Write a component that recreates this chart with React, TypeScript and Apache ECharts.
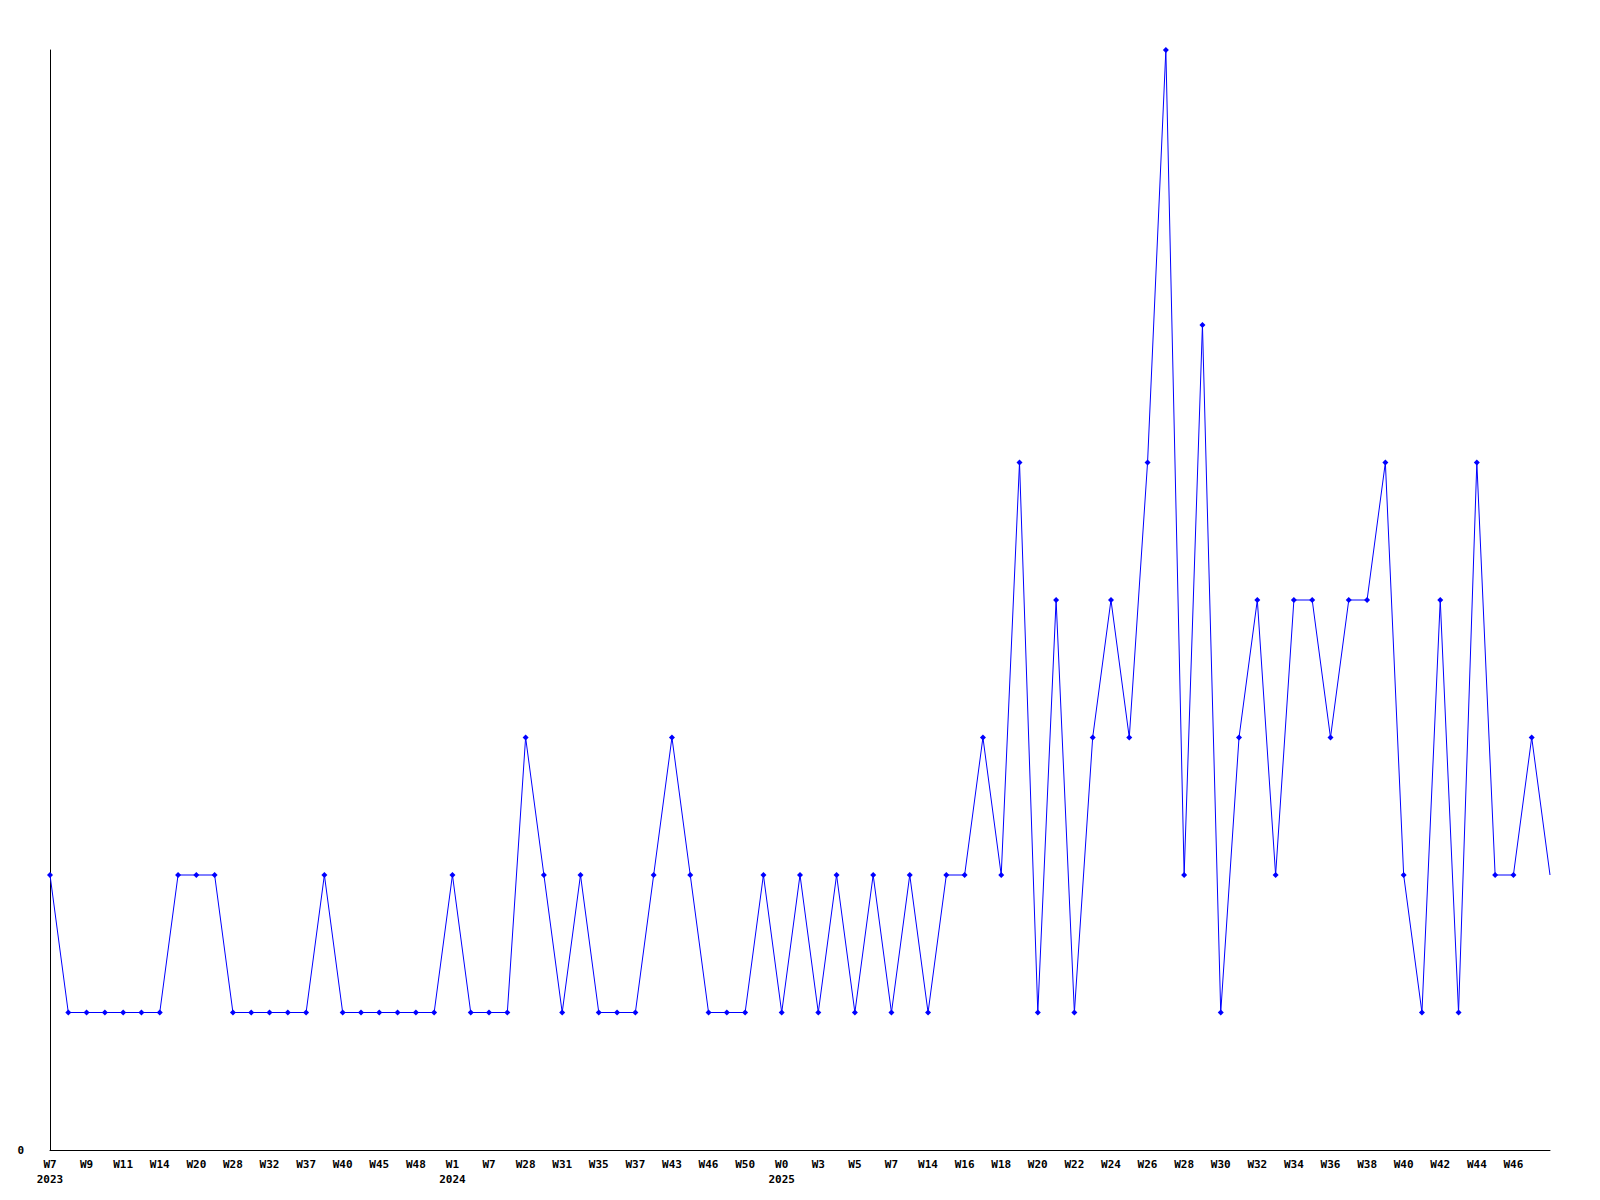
import React, { useEffect, useRef } from "react";
import * as echarts from "echarts";

const weeks: string[] = [
  "W7", "W8", "W9", "W10", "W11", "W12", "W14", "W17", "W20", "W25",
  "W28", "W30", "W32", "W35", "W37", "W38", "W40", "W43", "W45", "W47",
  "W48", "W50", "W1", "W3", "W7", "W20", "W28", "W30", "W31", "W33",
  "W35", "W36", "W37", "W40", "W43", "W44", "W46", "W48", "W50", "W52",
  "W0", "W2", "W3", "W4", "W5", "W6", "W7", "W10", "W14", "W15",
  "W16", "W17", "W18", "W19", "W20", "W21", "W22", "W23", "W24", "W25",
  "W26", "W27", "W28", "W29", "W30", "W31", "W32", "W33", "W34", "W35",
  "W36", "W37", "W38", "W39", "W40", "W41", "W42", "W43", "W44", "W45",
  "W46", "W47", "W48",
];

const yearStartIndex: number[] = [0, 22, 40];
const yearLabels: string[] = ["2023", "2024", "2025"];

const counts: number[] = [
  2, 1, 1, 1, 1, 1, 1, 2, 2, 2,
  1, 1, 1, 1, 1, 2, 1, 1, 1, 1,
  1, 1, 2, 1, 1, 1, 3, 2, 1, 2,
  1, 1, 1, 2, 3, 2, 1, 1, 1, 2,
  1, 2, 1, 2, 1, 2, 1, 2, 1, 2,
  2, 3, 2, 5, 1, 4, 1, 3, 4, 3,
  5, 8, 2, 6, 1, 3, 4, 2, 4, 4,
  3, 4, 4, 5, 2, 1, 4, 1, 5, 2,
  2, 3, 2,
];

const yTicks: number[] = [0, 8];

export default function App() {
  const ref = useRef<HTMLDivElement>(null);

  useEffect(() => {
    if (!ref.current) return;
    const chart = echarts.init(ref.current, null, { renderer: "svg" });
    const font = "DejaVu Sans Mono";
    const last = counts.length - 1;
    chart.setOption({
      animation: false,
      backgroundColor: "#ffffff",
      grid: { left: 42, right: 42, top: 42, bottom: 42, containLabel: false },
      xAxis: {
        type: "category",
        data: weeks,
        boundaryGap: false,
        axisLine: { show: true, lineStyle: { color: "#000", width: 1 } },
        axisTick: { show: false },
        splitLine: { show: false },
        axisLabel: {
          interval: 1,
          margin: 7,
          color: "#000",
          fontFamily: font,
          fontWeight: "bold",
          fontSize: 11,
          lineHeight: 15,
          formatter: (value: string, index: number) => {
            if (index === last) return "";
            const yi = yearStartIndex.indexOf(index);
            return yi >= 0 ? value + "\n" + yearLabels[yi] : value;
          },
        },
      },
      yAxis: {
        type: "value",
        min: yTicks[0],
        max: yTicks[1],
        interval: 8,
        axisLine: { show: true, lineStyle: { color: "#000", width: 1 } },
        axisTick: { show: false },
        splitLine: { show: false },
        axisLabel: {
          margin: 26,
          color: "#000",
          fontFamily: font,
          fontWeight: "bold",
          fontSize: 11,
          formatter: (v: number) => (v === 0 ? "0" : ""),
        },
      },
      series: [
        {
          type: "line",
          data: counts.map((v, i) =>
            i === last ? { value: v, symbol: "none" } : v
          ),
          symbol: "diamond",
          symbolSize: 6,
          showAllSymbol: true,
          lineStyle: { color: "#0000ff", width: 1 },
          itemStyle: { color: "#0000ff" },
        },
      ],
    });
    return () => chart.dispose();
  }, []);

  return <div ref={ref} style={{ width: 1584, height: 1184 }} />;
}
